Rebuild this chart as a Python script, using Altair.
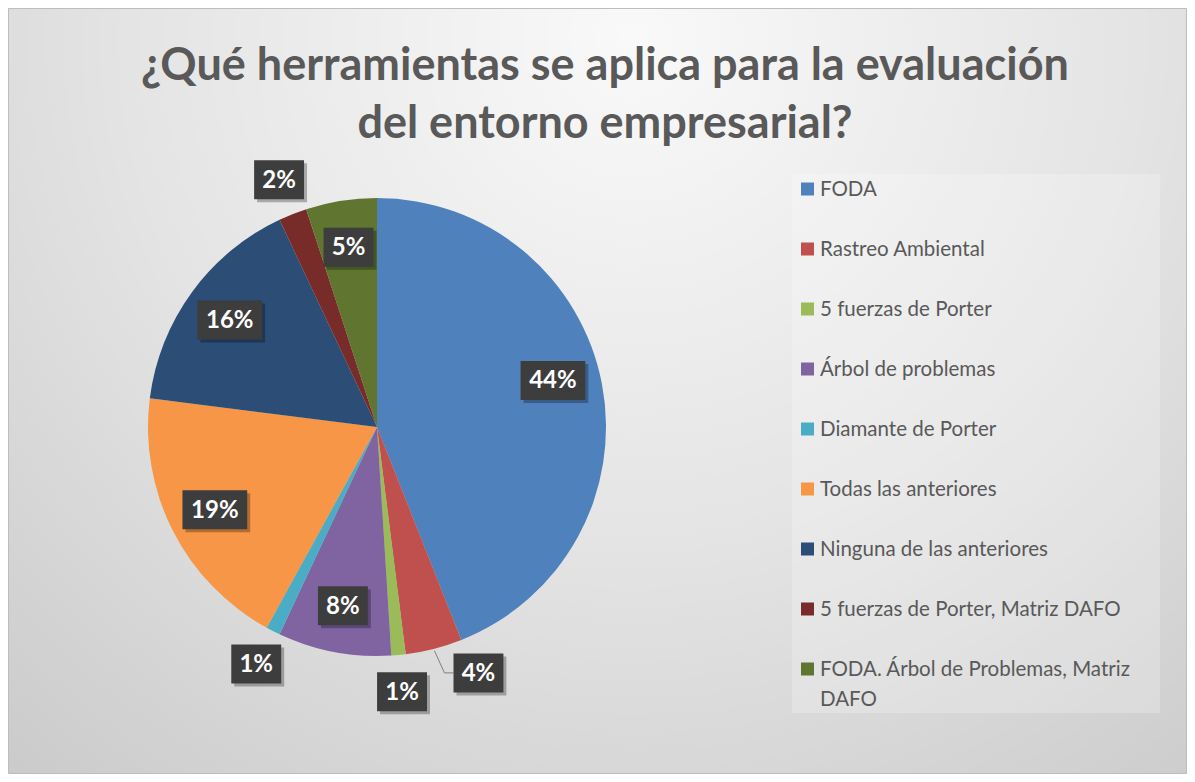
import altair as alt
import pandas as pd

# ---- data -------------------------------------------------------------
categories = [
    "FODA",
    "Rastreo Ambiental",
    "5 fuerzas de Porter",
    "Árbol de problemas",
    "Diamante de Porter",
    "Todas las anteriores",
    "Ninguna de las anteriores",
    "5 fuerzas de Porter, Matriz DAFO",
    "FODA. Árbol de Problemas, Matriz DAFO",
]
values = [44, 4, 1, 8, 1, 19, 16, 2, 5]
colors = ["#4F81BD", "#C0504D", "#9BBB59", "#8064A2", "#4BACC6",
          "#F79646", "#2C4D75", "#772C2A", "#5F7530"]
title_lines = ["¿Qué herramientas se aplica para la evaluación",
               "del entorno empresarial?"]

df = pd.DataFrame({"cat": categories, "v": values, "i": list(range(len(values)))})
tdf = pd.DataFrame({"line": title_lines, "i": list(range(len(title_lines)))})
one = pd.DataFrame({"k": [0]})

W, H = 1179, 766
CX, CY, R = 369, 419, 229
FONT = "Lato"
GREY = "#595959"

color_scale = alt.Scale(domain=categories, range=colors)

# ---- background -------------------------------------------------------
bg = alt.Chart(one).mark_rect(
    fill=alt.Gradient(
        gradient="radial",
        stops=[alt.GradientStop(color="#f9f9f9", offset=0),
               alt.GradientStop(color="#e4e4e4", offset=0.45),
               alt.GradientStop(color="#c2c2c2", offset=1)],
        x1=0.53, y1=0.2, r1=0, x2=0.53, y2=0.2, r2=0.95),
    stroke="#bdbdbd", strokeWidth=1,
).encode(x=alt.value(0.5), x2=alt.value(W - 0.5), y=alt.value(0.5), y2=alt.value(H - 0.5))

# ---- pie shadow ------------------------------------------------------
shadows = []
for extra, op in [(9, 0.03), (6, 0.04), (3, 0.05)]:
    r = R + extra
    shadows.append(
        alt.Chart(one).mark_point(shape="circle", filled=True, color="black",
                                  opacity=op, size=3.14159 * r * r)
        .encode(x=alt.value(CX + 3), y=alt.value(CY + 4))
    )

# ---- pie --------------------------------------------------------------
pie = alt.Chart(df).mark_arc(radius=R, stroke=None).encode(
    theta=alt.Theta("v:Q", stack=True),
    order=alt.Order("i:Q"),
    color=alt.Color("cat:N", scale=color_scale, legend=None),
    x=alt.value(CX), y=alt.value(CY),
)

# ---- data labels ------------------------------------------------------
lab = alt.Chart(df).transform_window(
    cum="sum(v)", frame=[None, 0], sort=[{"field": "i"}]
).transform_joinaggregate(
    total="sum(v)"
).transform_calculate(
    mid="(datum.cum - datum.v/2) / datum.total * 2 * PI",
    lr="datum.v <= 4 ? 266 : 182",
    nudge="datum.cat == 'Rastreo Ambiental' ? -0.14 : (datum.cat == 'FODA' ? -0.07 : 0)",
    ang="datum.mid + datum.nudge",
    lx=f"{CX} + datum.lr * sin(datum.ang)",
    ly=f"{CY} - datum.lr * cos(datum.ang)",
    sx="datum.lx + 3", sy="datum.ly + 3",
    ex=f"{CX} + {R + 2} * sin(datum.mid)",
    ey=f"{CY} - {R + 2} * cos(datum.mid)",
    kx="datum.lx - 34", kx2="datum.lx - 25",
    txt="format(datum.v / datum.total, '.0%')",
    shp="length(datum.txt) > 2 ? 'M-1.66,-1L1.66,-1L1.66,1L-1.66,1Z' : 'M-1.28,-1L1.28,-1L1.28,1L-1.28,1Z'",
)

def px(f):
    return alt.X(f"{f}:Q", scale=None, axis=None)

def py(f):
    return alt.Y(f"{f}:Q", scale=None, axis=None)

leader = lab.transform_filter("datum.v <= 4 && datum.nudge != 0")
leader1 = leader.mark_rule(color="#7f7f7f", strokeWidth=1).encode(
    x=px("ex"), y=py("ey"), x2="kx:Q", y2="ly:Q")
leader2 = leader.mark_rule(color="#7f7f7f", strokeWidth=1).encode(
    x=px("kx"), y=py("ly"), x2="kx2:Q")

box_shadow = lab.mark_point(filled=True, color="black", opacity=0.28, size=1521, strokeWidth=0).encode(
    x=px("sx"), y=py("sy"), shape=alt.Shape("shp:N", scale=None, legend=None))
box = lab.mark_point(filled=True, color="#3d3d3d", opacity=1, size=1521, strokeWidth=0).encode(
    x=px("lx"), y=py("ly"), shape=alt.Shape("shp:N", scale=None, legend=None))
box_text = lab.mark_text(font=FONT, fontWeight="bold", fontSize=24, color="white",
                         align="center", baseline="middle", dy=1).encode(
    x=px("lx"), y=py("ly"), text="txt:N")

# ---- legend -----------------------------------------------------------
leg_bg = alt.Chart(one).mark_rect(fill="white", opacity=0.22).encode(
    x=alt.value(784), x2=alt.value(1152), y=alt.value(166), y2=alt.value(705))

leg = alt.Chart(df).transform_calculate(
    ly="181 + 60 * datum.i",
    tl="length(datum.cat) > 33 ? substring(datum.cat, 0, lastindexof(substring(datum.cat, 0, 33), ' ')) + '\\n' + substring(datum.cat, lastindexof(substring(datum.cat, 0, 33), ' ') + 1) : datum.cat",
)
leg_sym = leg.mark_square(size=169, filled=True, opacity=1).encode(
    x=alt.value(799.5), y=py("ly"),
    color=alt.Color("cat:N", scale=color_scale, legend=None))
leg_txt = leg.mark_text(font=FONT, fontSize=20.5, color=GREY, align="left",
                        baseline="alphabetic", dy=7, lineBreak="\n", lineHeight=30).encode(
    x=alt.value(812), y=py("ly"), text="tl:N")

# ---- title ------------------------------------------------------------
title = alt.Chart(tdf).transform_calculate(ty="72 + 58 * datum.i").mark_text(
    font=FONT, fontWeight="bold", fontSize=45, color=GREY, align="center", baseline="alphabetic"
).encode(x=alt.value(597), y=py("ty"), text="line:N")

chart = alt.layer(
    bg, *shadows, pie, leader1, leader2, box_shadow, box, box_text,
    leg_bg, leg_sym, leg_txt, title
).properties(
    width=W, height=H, autosize=alt.AutoSizeParams(type="none"), padding=0
).configure_view(stroke=None)

chart.save("out.html", embed_options={"renderer": "svg", "actions": False})
